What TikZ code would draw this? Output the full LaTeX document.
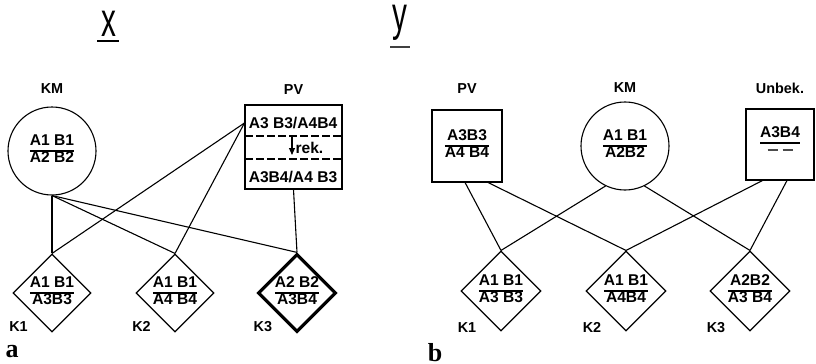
\documentclass[tikz,border=0pt]{standalone}
\usepackage{fontspec}
\setmainfont{Liberation Sans}
\newfontfamily\serifbold{Liberation Serif}
\usetikzlibrary{positioning, arrows.meta, shapes.geometric}
\setlength{\arrayrulewidth}{0.75pt}
\newcommand{\frc}[2]{\begin{tabular}{@{}c@{}}#1\\\hline #2\end{tabular}}

\begin{document}
\begin{tikzpicture}[x=0.5pt, y=-0.5pt, line width=0.55pt,
    every node/.style={font=\fontsize{7.8}{8}\selectfont\bfseries},
    kcirc/.style={draw, circle, minimum size=44pt, inner sep=0pt},
    kdia/.style={draw, diamond, minimum size=39pt, inner sep=0pt},
    kbox/.style={draw, rectangle, inner sep=0pt},
    klab/.style={inner sep=0pt, font=\fontsize{7.2}{7.5}\selectfont\bfseries},
    title/.style={inner sep=0pt, font=\fontsize{24}{24}\selectfont}]
    \useasboundingbox (0,0) rectangle (816,364);

    \node[title, anchor=base] (tx) at (109,37) {\smash{\scalebox{0.62}[1]{x}}};
    \draw[line width=1pt] (97,41) -- (119,41);
    \node[title, anchor=base] (ty) at (400,31) {\smash{\scalebox{0.62}[1]{y}}};
    \draw[line width=1pt, black!75] (390,47) -- (410,47);

    % a
    \node[kcirc] (kma) at (52,151) {\frc{A1 B1}{A2 B2}};
    \node[klab, above=6pt of kma] (kmalab) {KM};
    \node[kbox, minimum width=48.5pt, minimum height=42pt] (pva) at (293.5,147) {};
    \node[klab, above=4.5pt of pva] (pvalab) {PV};
    \node (pvatop) at (293,123) {A3 B3/A4B4};
    \node (pvabot) at (293,177) {A3B4/A4 B3};
    \draw[dash pattern=on 4pt off 1.5pt] (245,136) -- (342,136);
    \draw[dash pattern=on 4pt off 1.5pt] (245,159) -- (342,159);
    \coordinate (reka) at (292,137);
    \coordinate (rekb) at (292,155);
    \draw[-{Triangle[length=3.5pt, width=3pt]}] (reka) -- (rekb);
    \node[anchor=west, inner sep=0pt] (rek) at (295,148) {rek.};
    \foreach \n/\x/\t/\b/\w in {1/52/A1 B1/A3B3/0.55pt, 2/175/A1 B1/A4 B4/0.55pt, 3/297/A2 B2/A3B4/1.6pt}
    {
        \node[kdia, line width=\w] (ka\n) at (\x,293) {\frc{\t}{\b}};
        \node[klab, below left=4pt and 2pt of ka\n.south west] (kla\n) {K\n};
    }
    \draw (kma.south) -- (ka1.north);
    \draw (kma.south) -- (ka2.north);
    \draw (kma.south) -- (ka3.north);
    \draw (pva.west |- pvatop) -- (ka1.north);
    \draw (pva.west |- pvatop) -- (ka2.north);
    \draw (pva.south) -- (ka3.north);
    \node[font=\serifbold\fontsize{13}{13}\selectfont\bfseries, inner sep=0pt] (la) at (12,352) {a};

    % b
    \node[kbox, minimum width=35pt, minimum height=36pt] (pvb) at (467,146) {\frc{A3B3}{A4 B4}};
    \node[klab, above=7.5pt of pvb] (pvblab) {PV};
    \node[kcirc] (kmb) at (625,146) {\frc{A1 B1}{A2B2}};
    \node[klab, above=4pt of kmb] (kmblab) {KM};
    \node[kbox, minimum width=34pt, minimum height=35.5pt] (unb) at (780,144.5) {};
    \node[klab, above=7pt of unb] (unblab) {Unbek.};
    \node[inner sep=0pt] (unbtxt) at (780,143) {\frc{A3B4}{\color{black!70}\rule[2.2pt]{5pt}{0.6pt}\hspace{2.5pt}\rule[2.2pt]{5pt}{0.6pt}}};
    \foreach \n/\x/\t/\b in {1/501/A1 B1/A3 B3, 2/626/A1 B1/A4B4, 3/750/A2B2/A3 B4}
    {
        \node[kdia, minimum size=40pt] (kb\n) at (\x,291) {\frc{\t}{\b}};
        \node[klab, below left=5.5pt and 2pt of kb\n.south west] (klb\n) {K\n};
    }
    \draw (pvb.-93) -- (kb1.north);
    \draw (pvb.-60) -- (kb2.north);
    \draw (kmb.-116) -- (kb1.north);
    \draw (kmb.-64) -- (kb3.north);
    \draw (unb.-116) -- (kb2.north);
    \draw (unb.-79) -- (kb3.north);
    \node[font=\serifbold\fontsize{13}{13}\selectfont\bfseries, inner sep=0pt] (lb) at (435,353) {b};
\end{tikzpicture}
\end{document}
